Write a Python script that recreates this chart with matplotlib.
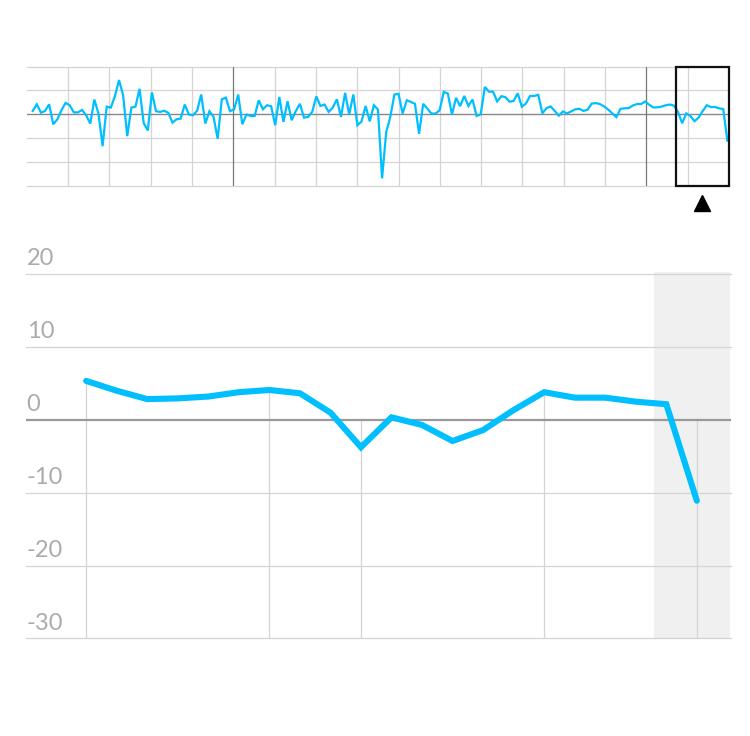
import numpy as np
import matplotlib
matplotlib.use("Agg")
import matplotlib.pyplot as plt
from matplotlib.patches import Rectangle


# Data.

# Long series shown in the small overview panel (oldest first).
overview_early = [1.4, 4.2, 0.7, 1.4, 4.2, -4.2, -2.1, 1.7, 4.8, 3.8, 0.8, 0.8, 1.8, -0.4, -3.9,
                  6.2, 0.3, -13.4, 3.2, 2.8, 7.6, 14.4, 8.0, -9.2, 2.8, 3.2, 10.7, -3.7, -6.8,
                  9.2, 1.3, 1.0, 1.5, 0.6, -3.5, -2.1, -1.8, 4.1, -0.1, -0.4, 1.5, 8.3, -3.9,
                  1.3, -1.1, -10.3, 6.3, 7.0, 1.3, 2.1, 8.3, -4.2, -0.1, -0.7, -0.7, 5.9, 2.1,
                  3.8, 3.4, -4.6, 7.3, -3.2, 5.5, -2.5, 1.3, 4.4, -1.4, -1.1, 1.0, 7.5, 3.5,
                  4.1, 1.0, 2.8, 6.3, -1.1, 9.0, -0.1, 8.3, -4.6, -3.0, 3.5, -3.0, 3.8, 2.0,
                  -26.9, -7.5, -1.1, 8.3, 8.6, 0.3, 5.9, 5.2, 4.4, -8.2, 4.4, 2.4, 0.3, 0.3,
                  1.7, 9.4, 8.7, -0.1, 6.9, 3.4, 7.7, 3.5, 6.2, -0.7, 0.0, 11.5,
                  9.5, 9.5, 5.4, 7.6, 7.2, 5.3, 5.6, 8.8, 3.2, 4.5, 7.7, 7.7, 8.2, 0.4, 2.6,
                  3.3, 1.4, -0.6, 1.2, 0.4, 1.2, 2.1, 2.3, 1.4, 1.9, 4.5, 4.7, 4.3, 3.3, 2.0,
                  0.4, -1.2, 2.3, 2.5, 2.6, 3.7, 4.3, 4.3]

# Recent period, shown large in the main panel (also the tail of the overview).
recent = [5.35, 4.0, 2.85, 2.95, 3.2, 3.8, 4.1, 3.65, 1.0, -3.75, 0.35, -0.7, -2.9, -1.4,
          1.35, 3.8, 3.05, 3.05, 2.5, 2.15, -11.1]

y_ticks = [20, 10, 0, -10, -20, -30]
y_tick_labels = ['20', '10', '0', '-10', '-20', '-30']

# Points of the recent series that get a drop line.
marked_points = [0, 6, 9, 15, 20]

overview = np.array(overview_early + recent)
overview_x = np.arange(len(overview))
recent_x = np.arange(len(recent))

# Styles.
line_color = '#00bfff'
grid_color = '#d4d4d4'
zero_color = '#999999'
label_color = '#ababab'

plt.rcParams['font.family'] = ['Lato', 'DejaVu Sans']

fig = plt.figure(figsize=(7.5, 7.36), dpi=100)


# Overview panel.

ax_top = fig.add_axes([0.0356, 0.7477, 0.9364, 0.1617])
x_left, x_right = -1.46, 169.4
ax_top.set_xlim(x_left, x_right)
ax_top.set_ylim(-30, 20)

for y in y_ticks:
    if y == 0:
        continue
    ax_top.axhline(y, color=grid_color, lw=0.9, zorder=1, clip_on=False)
ax_top.axhline(0, color='#888888', lw=1.0, zorder=2)

vgrid = np.linspace(x_left, x_right, 18)
for k, xv in enumerate(vgrid[1:-1], start=1):
    if k in (5, 15):
        ax_top.axvline(xv, color='#777777', lw=0.9, zorder=2)
    else:
        ax_top.axvline(xv, color=grid_color, lw=0.9, zorder=1)

ax_top.plot(overview_x, overview, color=line_color, lw=1.6, zorder=3, solid_joinstyle='miter')

# Box marking the zoomed window, and the pointer under it.
window = (156.4, 169.3)
ax_top.add_patch(Rectangle((window[0], -30), window[1] - window[0], 50, fill=False,
                           edgecolor='#111111', lw=1.6, zorder=4, clip_on=False))
ax_top.plot([(window[0] + window[1]) / 2], [-37.4], marker='^', markersize=11,
            color='black', clip_on=False, zorder=4)

ax_top.set_xticks([])
ax_top.set_yticks([])
for s in ax_top.spines.values():
    s.set_visible(False)


# Main panel.

ax = fig.add_axes([0.0347, 0.1325, 0.94, 0.498])
ax.set_xlim(-1.97, 21.12)
ax.set_ylim(-30, 20.3)

ax.axvspan(18.6, 21.08, color='#f0f0f0', zorder=0, lw=0)

for y in y_ticks:
    if y == 0:
        continue
    ax.axhline(y, color=grid_color, lw=0.9, zorder=1, clip_on=False)
ax.axhline(0, color=zero_color, lw=1.6, zorder=2)

for i in marked_points:
    ax.vlines(recent_x[i], -30, max(recent[i], 0), color=grid_color, lw=0.9, zorder=1)

ax.plot(recent_x, recent, color=line_color, lw=4.4, zorder=3,
        solid_capstyle='round', solid_joinstyle='miter')

# Y labels sit just above their gridlines, at the left edge.
for y, lab in zip(y_ticks, y_tick_labels):
    ax.annotate(lab, xy=(0.001, y), xycoords=('axes fraction', 'data'),
                xytext=(0, 3.5), textcoords='offset points', ha='left', va='bottom',
                fontsize=17, color=label_color, fontweight='normal')

ax.set_xticks([])
ax.set_yticks([])
for s in ax.spines.values():
    s.set_visible(False)

plt.savefig('out.png', dpi=100)
plt.close()
